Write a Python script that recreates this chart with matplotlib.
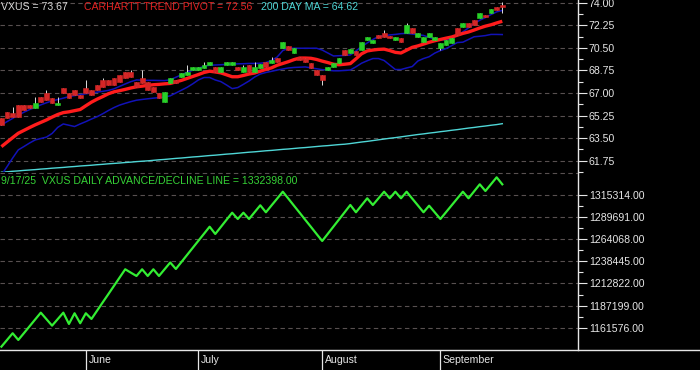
import matplotlib
matplotlib.use('Agg')
import matplotlib.pyplot as plt
from matplotlib.lines import Line2D
import numpy as np

plt.rcParams['font.family'] = ['Liberation Sans', 'DejaVu Sans']

# ---------------- data ----------------
opens = [65.06, 65.53, 65.45, 66.07, 66.07, 66.07, 65.84, 66.69, 67.00, 66.61,
         66.07, 67.39, 67.00, 67.23, 66.85, 67.39, 67.23, 67.62, 68.01, 68.01,
         68.16, 68.40, 68.63, 68.63, 67.85, 68.16, 67.85, 67.47, 67.00, 66.30,
         67.78, 68.01, 68.24, 68.40, 68.78, 68.78, 68.94, 69.17, 69.02, 68.63,
         69.17, 69.17, 69.02, 68.63, 69.17, 68.63, 68.94, 69.40, 69.33, 69.71,
         70.49, 70.64, 70.10, 69.79, 69.71, 69.33, 68.78, 68.40, 68.78, 69.02,
         69.33, 70.33, 70.10, 70.26, 70.33, 71.11, 70.88, 71.50, 71.65, 71.42,
         71.11, 71.26, 71.65, 72.04, 71.34, 70.95, 71.34, 71.11, 70.49, 70.72,
         70.88, 72.04, 72.12, 72.43, 72.66, 72.81, 73.05, 73.20, 73.67, 73.85]
closes = [64.52, 65.06, 65.14, 65.14, 65.68, 65.84, 66.23, 66.30, 66.46, 66.23,
          66.23, 67.00, 66.61, 66.85, 66.61, 67.00, 66.85, 67.23, 67.47, 67.62,
          67.62, 67.85, 68.16, 68.24, 67.47, 67.78, 67.23, 67.08, 66.61, 67.08,
          68.16, 67.78, 68.55, 68.63, 69.02, 69.02, 69.17, 69.40, 68.63, 69.02,
          69.40, 69.40, 68.78, 69.02, 68.63, 69.02, 69.25, 69.02, 69.56, 69.40,
          70.95, 70.33, 70.49, 69.56, 69.40, 68.94, 68.40, 68.01, 69.02, 69.33,
          69.71, 69.95, 70.41, 69.95, 70.95, 71.34, 71.11, 71.26, 71.34, 71.26,
          71.34, 70.95, 72.27, 71.65, 71.65, 71.34, 71.65, 71.34, 70.88, 71.11,
          71.26, 71.50, 72.43, 72.12, 72.27, 73.20, 72.89, 73.51, 73.43, 73.67]
highs = [65.06, 65.53, 65.94, 66.07, 66.07, 66.07, 66.70, 66.69, 67.23, 66.61,
         66.69, 67.39, 67.00, 67.23, 66.85, 68.01, 67.23, 67.62, 68.16, 68.01,
         68.16, 68.40, 68.63, 68.78, 67.85, 68.78, 67.85, 67.47, 67.00, 67.08,
         68.16, 68.01, 68.55, 69.17, 69.02, 69.02, 69.43, 69.40, 69.02, 69.02,
         69.40, 69.40, 69.02, 69.17, 69.17, 69.43, 69.25, 69.40, 69.81, 69.71,
         70.95, 70.64, 70.49, 69.79, 69.71, 69.33, 68.78, 68.40, 69.02, 69.33,
         69.71, 70.33, 70.41, 70.26, 70.95, 71.34, 71.11, 71.50, 71.88, 71.42,
         71.34, 71.26, 72.43, 72.04, 71.65, 71.34, 71.65, 71.34, 70.88, 71.11,
         71.26, 72.04, 72.43, 72.43, 72.66, 73.20, 73.05, 73.51, 73.67, 74.05]
lows = [64.52, 65.06, 65.14, 65.14, 65.68, 65.84, 65.84, 66.30, 66.46, 66.23,
        66.07, 67.00, 66.61, 66.85, 66.61, 67.00, 66.85, 67.23, 67.47, 67.62,
        67.62, 67.85, 68.16, 68.24, 67.47, 67.78, 67.23, 67.08, 66.61, 66.30,
        67.78, 67.78, 68.24, 68.40, 68.78, 68.78, 68.94, 69.17, 68.63, 68.63,
        69.17, 69.17, 68.78, 68.63, 68.63, 68.63, 68.94, 69.02, 69.33, 69.40,
        70.49, 70.33, 70.10, 69.56, 69.40, 68.94, 68.40, 67.62, 68.78, 69.02,
        69.33, 69.95, 70.10, 69.95, 70.33, 71.11, 70.88, 71.26, 71.34, 71.26,
        71.11, 70.95, 71.65, 71.65, 71.34, 70.95, 71.34, 71.11, 70.33, 70.72,
        70.88, 71.50, 72.12, 72.12, 72.27, 72.81, 72.89, 73.20, 73.43, 73.20]

trend_pivot = [62.84, 63.19, 63.54, 63.88, 64.10, 64.32, 64.53, 64.72, 64.91, 65.13,
               65.33, 65.48, 65.54, 65.63, 65.72, 66.01, 66.29, 66.52, 66.72, 66.94,
               67.09, 67.18, 67.28, 67.39, 67.48, 67.53, 67.59, 67.64, 67.67, 67.71,
               67.74, 67.86, 67.98, 68.13, 68.28, 68.43, 68.59, 68.69, 68.63, 68.56,
               68.41, 68.26, 68.26, 68.36, 68.47, 68.55, 68.69, 68.83, 68.95, 69.15,
               69.29, 69.43, 69.59, 69.71, 69.71, 69.69, 69.60, 69.47, 69.36, 69.23,
               69.19, 69.23, 69.28, 69.65, 70.04, 70.26, 70.33, 70.38, 70.40, 70.29,
               70.15, 70.10, 70.32, 70.54, 70.65, 70.79, 70.93, 71.05, 71.15, 71.25,
               71.34, 71.48, 71.62, 71.73, 71.88, 72.04, 72.18, 72.29, 72.43, 72.56]
upper_band = [64.52, 64.78, 65.03, 65.29, 65.51, 65.71, 65.89, 66.08, 66.24, 66.39,
              66.49, 66.60, 66.72, 66.80, 66.87, 66.94, 67.01, 67.07, 67.13, 67.20,
              67.32, 67.51, 67.70, 67.88, 68.01, 67.99, 67.98, 67.98, 67.97, 67.96,
              68.02, 68.22, 68.41, 68.60, 68.76, 68.91, 69.07, 69.15, 69.17, 69.19,
              69.22, 69.24, 69.26, 69.27, 69.29, 69.29, 69.31, 69.36, 69.52, 69.79,
              70.29, 70.47, 70.47, 70.47, 70.47, 70.47, 70.47, 70.33, 70.10, 69.87,
              69.89, 69.91, 69.95, 70.26, 70.60, 70.88, 71.15, 71.37, 71.43, 71.50,
              71.54, 71.60, 71.62, 71.57, 71.52, 71.46, 71.32, 71.17, 71.13, 71.11,
              71.20, 71.48, 71.74, 72.05, 72.39, 72.64, 72.85, 73.08, 73.29, 73.40]
lower_band = [60.64, 61.29, 61.96, 62.59, 62.85, 63.12, 63.36, 63.47, 63.58, 63.86,
              64.33, 64.60, 64.50, 64.40, 64.60, 64.78, 64.98, 65.16, 65.39, 65.64,
              65.87, 66.06, 66.20, 66.33, 66.44, 66.50, 66.55, 66.60, 66.64, 66.69,
              66.78, 67.00, 67.22, 67.44, 67.71, 68.01, 68.20, 68.20, 68.01, 67.88,
              67.62, 67.34, 67.42, 67.67, 67.93, 68.24, 68.47, 68.59, 68.68, 68.78,
              68.86, 68.94, 68.98, 69.00, 69.02, 68.95, 68.88, 68.81, 68.77, 68.72,
              68.72, 68.75, 68.78, 69.03, 69.31, 69.50, 69.67, 69.67, 69.52, 69.17,
              68.82, 68.82, 68.94, 69.05, 69.48, 69.67, 69.81, 70.09, 70.29, 70.44,
              70.67, 70.91, 70.94, 71.15, 71.36, 71.40, 71.45, 71.54, 71.54, 71.53]
ma200 = [60.86, 60.89, 60.93, 60.96, 61.00, 61.03, 61.06, 61.10, 61.13, 61.17,
         61.20, 61.23, 61.27, 61.30, 61.34, 61.37, 61.40, 61.44, 61.47, 61.51,
         61.54, 61.57, 61.61, 61.64, 61.68, 61.71, 61.74, 61.78, 61.82, 61.85,
         61.89, 61.93, 61.96, 62.00, 62.04, 62.07, 62.11, 62.15, 62.18, 62.22,
         62.26, 62.29, 62.33, 62.37, 62.41, 62.44, 62.48, 62.52, 62.55, 62.59,
         62.63, 62.66, 62.70, 62.74, 62.77, 62.81, 62.85, 62.89, 62.92, 62.96,
         63.00, 63.03, 63.08, 63.14, 63.20, 63.25, 63.31, 63.37, 63.43, 63.49,
         63.54, 63.60, 63.66, 63.72, 63.78, 63.83, 63.89, 63.94, 64.00, 64.05,
         64.11, 64.16, 64.22, 64.28, 64.33, 64.39, 64.44, 64.50, 64.55, 64.62]
ad_line = [1139610, 1147375, 1155140, 1147375, 1155256, 1163195, 1171134, 1179016, 1171482, 1163949,
           1171482, 1179016, 1165919, 1178320, 1166730, 1178320, 1171714, 1181334, 1190953, 1200457,
           1210077, 1219696, 1229316, 1225376, 1221551, 1229316, 1221551, 1229316, 1221551, 1229374,
           1237197, 1229664, 1237835, 1246006, 1254177, 1262348, 1270519, 1278690, 1270229, 1278458,
           1286687, 1294916, 1287614, 1294916, 1287614, 1295553, 1303492, 1295379, 1303376, 1311257,
           1319255, 1311142, 1302913, 1294800, 1286571, 1278458, 1270229, 1262116, 1270461, 1278805,
           1287150, 1295495, 1303840, 1295379, 1303492, 1311605, 1303840, 1311547, 1319255, 1311605,
           1319255, 1311605, 1319255, 1311257, 1303376, 1295379, 1303029, 1295321, 1287614, 1295495,
           1303434, 1311373, 1319255, 1311605, 1319718, 1327831, 1320066, 1328005, 1335944, 1327831]

month_starts = [15, 35, 57, 78]
month_labels = ["June", "July", "August", "September"]

price_ticks = [61.75, 63.50, 65.25, 67.00, 68.75, 70.50, 72.25, 74.00]
ad_ticks = [1161576, 1187199, 1212822, 1238445, 1264068, 1289691, 1315314]
ad_extra_grid = 1340937

title_price = "VXUS = 73.67"
title_pivot = "CARHARTT TREND PIVOT = 72.56"
title_ma = "200 DAY MA = 64.62"
title_ad = "9/17/25  VXUS DAILY ADVANCE/DECLINE LINE = 1332398.00"

# ---------------- styling ----------------
BG = 'black'
FG = '#e6e6e6'
GRID = '#585050'
RED = '#ff1c1c'
BLUE = '#1212b8'
CYAN = '#4fd6d6'
GREEN_LINE = '#33ee33'
C_UP = '#27d027'
C_DN = '#d42626'
FS = 7.6

W, H = 700, 370
plot_w = 577.7
top_h = 172
bot_top, bot_bot = 172, 350

fig = plt.figure(figsize=(W / 100, H / 100), dpi=100, facecolor=BG)
ax1 = fig.add_axes([0, 1 - top_h / H, plot_w / W, top_h / H], facecolor=BG)
ax2 = fig.add_axes([0, 1 - bot_bot / H, plot_w / W, (bot_bot - bot_top) / H],
                   facecolor=BG, sharex=ax1)

idx = np.arange(len(closes))
dash = (0, (4, 3))

# ---- top panel ----
ax1.set_ylim(60.876, 74.209)
ax1.set_xlim(-0.25, 102.4)
for t in price_ticks:
    ax1.axhline(t, color=GRID, lw=0.8, linestyle=dash, zorder=0)
ax1.plot(idx, ma200, color=CYAN, lw=1.0, zorder=2)
ax1.plot(idx, upper_band, color=BLUE, lw=1.1, zorder=2)
ax1.plot(idx, lower_band, color=BLUE, lw=1.1, zorder=2)
ax1.plot(idx, trend_pivot, color=RED, lw=2.4, zorder=3, solid_capstyle='butt')
o = np.array(opens)
c = np.array(closes)
cols = [C_UP if cc >= oo else C_DN for oo, cc in zip(o, c)]
ax1.vlines(idx, lows, highs, color='#dcdcdc', lw=0.7, zorder=4)
ax1.bar(idx, c - o, bottom=o, width=0.86, color=cols, edgecolor=cols, linewidth=0.4, zorder=5)

ax1.yaxis.tick_right()
ax1.set_yticks(price_ticks)
ax1.set_yticklabels([f"{t:.2f}" for t in price_ticks])
minor_p = [t - 0.875 for t in price_ticks]
ax1.set_yticks(minor_p, minor=True)
ax1.tick_params(axis='y', which='major', direction='out', length=6.5, width=0.8,
                colors=FG, labelsize=FS, pad=1.5)
ax1.tick_params(axis='y', which='minor', direction='out', length=3.6, width=0.8, colors=FG)
ax1.tick_params(axis='x', which='both', bottom=False, labelbottom=False)
for s in ['top', 'left', 'bottom']:
    ax1.spines[s].set_visible(False)
ax1.spines['right'].set_color(FG)
ax1.spines['right'].set_linewidth(1.0)

ty = 1 - 6.5 / top_h
ax1.text(1 / plot_w, ty, title_price, transform=ax1.transAxes, color='#d8d8d8',
         fontsize=FS, va='center', ha='left')
ax1.text(84 / plot_w, ty, title_pivot, transform=ax1.transAxes, color='#e32222',
         fontsize=FS, va='center', ha='left')
ax1.text(261 / plot_w, ty, title_ma, transform=ax1.transAxes, color=CYAN,
         fontsize=FS, va='center', ha='left')

# ---- bottom panel ----
ax2.set_ylim(1135721, 1342096)
for t in ad_ticks + [ad_extra_grid]:
    ax2.axhline(t, color=GRID, lw=0.8, linestyle=dash, zorder=0)
ax2.plot(idx, ad_line, color=GREEN_LINE, lw=1.6, zorder=3)
ax2.yaxis.tick_right()
ax2.set_yticks(ad_ticks)
ax2.set_yticklabels([f"{t:.2f}" for t in ad_ticks])
ax2.set_yticks([t + 12811.5 for t in ad_ticks[:-1]], minor=True)
ax2.tick_params(axis='y', which='major', direction='out', length=6.5, width=0.8,
                colors=FG, labelsize=FS, pad=1.5)
ax2.tick_params(axis='y', which='minor', direction='out', length=3.6, width=0.8, colors=FG)
ax2.set_xticks(month_starts)
ax2.set_xticks([], minor=True)
ax2.tick_params(axis='x', which='major', direction='out', length=14.4, width=0.9,
                colors=FG, labelbottom=False)
for s in ['top', 'left', 'bottom']:
    ax2.spines[s].set_visible(False)
ax2.spines['right'].set_color(FG)
ax2.spines['right'].set_linewidth(1.0)

ax2.text(1 / plot_w, (bot_bot - 181) / (bot_bot - bot_top), title_ad, transform=ax2.transAxes,
         color='#36d236', fontsize=FS, va='center', ha='left')
xt = ax2.get_xaxis_transform()
for m, lab in zip(month_starts, month_labels):
    ax2.text(m + 0.45, -10 / (bot_bot - bot_top), lab, transform=xt, color=FG,
             fontsize=FS, va='center', ha='left', clip_on=False)

fig.add_artist(Line2D([0, 1], [1 - bot_bot / H, 1 - bot_bot / H], transform=fig.transFigure,
                      color=FG, lw=1.0))

fig.savefig('out.png', dpi=100, facecolor=BG)
